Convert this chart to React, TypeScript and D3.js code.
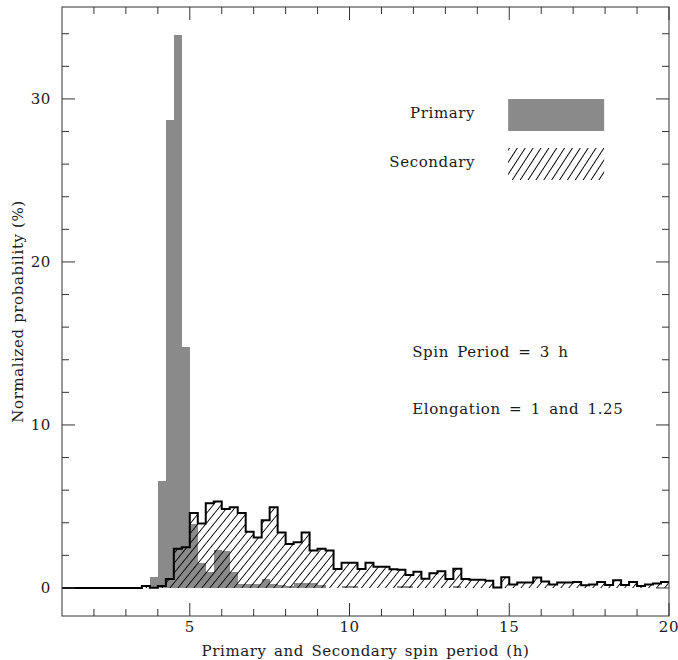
import React, { useRef, useEffect } from "react";
import * as d3 from "d3";

// histogram bins are 0.25 h wide
const binWidth = 0.25;

// Secondary spin period histogram, bins starting at 3.5 h
const secondaryStart = 3.5;
const secondaryValues = [
  0.12, 0.02, 0.12, 0.55, 2.4, 2.5, 4.6, 3.95, 5.2, 5.3,
  4.85, 4.95, 4.6, 3.45, 3.1, 4.15, 4.95, 3.4, 2.7, 2.8,
  3.4, 2.3, 2.4, 2.3, 1.17, 1.55, 1.55, 1.17, 1.54, 1.3,
  1.3, 1.15, 1.12, 0.8, 1.0, 0.57, 0.91, 1.02, 0.55, 1.18,
  0.55, 0.5, 0.5, 0.45, 0.03, 0.65, 0.22, 0.33, 0.33, 0.64,
  0.39, 0.22, 0.33, 0.33, 0.37, 0.16, 0.22, 0.37, 0.18, 0.47,
  0.18, 0.37, 0.12, 0.22, 0.27, 0.37,
];

// Primary spin period histogram, bins starting at 3.75 h
const primaryStart = 3.75;
const primaryValues = [
  0.65, 6.55, 28.7, 33.9, 14.8, 3.95, 1.55, 0.95, 2.3, 2.25,
  0.95, 0.25, 0.25, 0.25, 0.55, 0.25, 0.2, 0.1, 0.3, 0.3,
  0.3, 0.2, 0, 0, 0.15, 0.15, 0, 0, 0, 0,
  0, 0.15, 0.12, 0, 0, 0, 0, 0, 0.12,
];

const xMajorTicks = [5, 10, 15, 20];
const yMajorTicks = [0, 10, 20, 30];
const legendLabels = ["Primary", "Secondary"];
const notes = ["Spin Period = 3 h", "Elongation = 1 and 1.25"];

const W = 678;
const H = 660;
const margin = { top: 7, right: 9, bottom: 44, left: 62 };
const FONT = "'DejaVu Serif', serif";
const GREY = "#8a8a8a";

const App = () => {
  const svgRef = useRef<SVGSVGElement | null>(null);

  useEffect(() => {
    const svg = d3.select(svgRef.current);
    svg.selectAll("*").remove();

    const innerW = W - margin.left - margin.right;
    const innerH = H - margin.top - margin.bottom;

    const x = d3.scaleLinear().domain([1, 20]).range([0, innerW]);
    const y = d3.scaleLinear().domain([-1.72, 35.64]).range([innerH, 0]);

    const defs = svg.append("defs");
    const addHatch = (id: string, angle: number, gap: number, sw: number) => {
      const p = defs
        .append("pattern")
        .attr("id", id)
        .attr("patternUnits", "userSpaceOnUse")
        .attr("width", gap)
        .attr("height", gap)
        .attr("patternTransform", `rotate(${angle})`);
      p.append("line")
        .attr("x1", gap / 2)
        .attr("x2", gap / 2)
        .attr("y1", -1)
        .attr("y2", gap + 1)
        .attr("stroke", "#000")
        .attr("stroke-width", sw);
    };
    addHatch("hatch", 39, 6.2, 0.9);
    addHatch("hatchLegend", 33, 6.6, 1);

    const g = svg
      .append("g")
      .attr("transform", `translate(${margin.left},${margin.top})`);

    // primary bars
    const primary = primaryValues.map((v, i) => ({
      x0: primaryStart + i * binWidth,
      v,
    }));
    g.selectAll(".pbar")
      .data(primary.filter((d) => d.v > 0))
      .enter()
      .append("rect")
      .attr("x", (d) => x(d.x0))
      .attr("width", (d) => x(d.x0 + binWidth) - x(d.x0))
      .attr("y", (d) => y(d.v))
      .attr("height", (d) => y(0) - y(d.v))
      .attr("fill", GREY)
      .attr("shape-rendering", "crispEdges");

    // secondary hatched histogram
    const secondary = secondaryValues.map((v, i) => ({
      x0: secondaryStart + i * binWidth,
      v,
    }));
    const steps = [
      ...secondary,
      { x0: secondaryStart + secondary.length * binWidth, v: secondary[secondary.length - 1].v },
    ];

    const area = d3
      .area<{ x0: number; v: number }>()
      .x((d) => x(d.x0))
      .y0(y(0))
      .y1((d) => y(d.v))
      .curve(d3.curveStepAfter);
    g.append("path").datum(steps).attr("d", area).attr("fill", "url(#hatch)");

    const line = d3
      .line<{ x0: number; v: number }>()
      .x((d) => x(d.x0))
      .y((d) => y(d.v))
      .curve(d3.curveStepAfter);
    g.append("path")
      .datum([{ x0: 1, v: 0 }, ...steps])
      .attr("d", line)
      .attr("fill", "none")
      .attr("stroke", "#000")
      .attr("stroke-width", 2)
      .attr("stroke-linejoin", "miter");

    // frame
    g.append("rect")
      .attr("width", innerW)
      .attr("height", innerH)
      .attr("fill", "none")
      .attr("stroke", "#333")
      .attr("stroke-width", 1);

    // ticks on all four sides, pointing in
    const tickStroke = "#333";
    const xTicks = d3.range(2, 21, 1);
    xTicks.forEach((t) => {
      const len = xMajorTicks.includes(t) ? 13 : 7;
      const px = x(t);
      g.append("line").attr("x1", px).attr("x2", px).attr("y1", innerH).attr("y2", innerH - len).attr("stroke", tickStroke);
      g.append("line").attr("x1", px).attr("x2", px).attr("y1", 0).attr("y2", len).attr("stroke", tickStroke);
    });
    const yTicks = d3.range(0, 36, 2);
    yTicks.forEach((t) => {
      const len = yMajorTicks.includes(t) ? 13 : 7;
      const py = y(t);
      g.append("line").attr("x1", 0).attr("x2", len).attr("y1", py).attr("y2", py).attr("stroke", tickStroke);
      g.append("line").attr("x1", innerW).attr("x2", innerW - len).attr("y1", py).attr("y2", py).attr("stroke", tickStroke);
    });

    const text = (sel: any) =>
      sel
        .attr("font-family", FONT)
        .attr("font-size", 15)
        .attr("letter-spacing", 0.6)
        .attr("fill", "#1a1a1a");

    xMajorTicks.forEach((t) => {
      g.append("text")
        .call(text)
        .attr("x", x(t))
        .attr("y", innerH + 16)
        .attr("text-anchor", "middle")
        .text(t);
    });
    yMajorTicks.forEach((t) => {
      g.append("text")
        .call(text)
        .attr("x", -11)
        .attr("y", y(t) + 5)
        .attr("text-anchor", "end")
        .text(t);
    });

    g.append("text")
      .call(text)
      .attr("word-spacing", 2)
      .attr("x", innerW / 2)
      .attr("y", innerH + 40)
      .attr("text-anchor", "middle")
      .text("Primary and Secondary spin period (h)");

    g.append("text")
      .call(text)
      .attr("transform", `translate(${-39},${innerH / 2}) rotate(-90)`)
      .attr("text-anchor", "middle")
      .text("Normalized probability (%)");

    // legend
    const lx = innerW * 0.735;
    const lw = 96;
    const boxTop = [92, 141];
    legendLabels.forEach((lab, i) => {
      g.append("text")
        .call(text)
        .attr("x", lx - 33)
        .attr("y", boxTop[i] + 19)
        .attr("text-anchor", "end")
        .text(lab);
      g.append("rect")
        .attr("x", lx)
        .attr("y", boxTop[i])
        .attr("width", lw)
        .attr("height", 32)
        .attr("fill", i === 0 ? GREY : "url(#hatchLegend)");
    });

    // notes
    notes.forEach((n, i) => {
      g.append("text")
        .call(text)
        .attr("word-spacing", 3)
        .attr("x", innerW * 0.577)
        .attr("y", 350 + i * 57)
        .text(n);
    });
  }, []);

  return (
    <div style={{ position: "absolute", left: 0, top: 0, background: "#fff" }}>
      <svg ref={svgRef} width={W} height={H}></svg>
    </div>
  );
};

export default App;
